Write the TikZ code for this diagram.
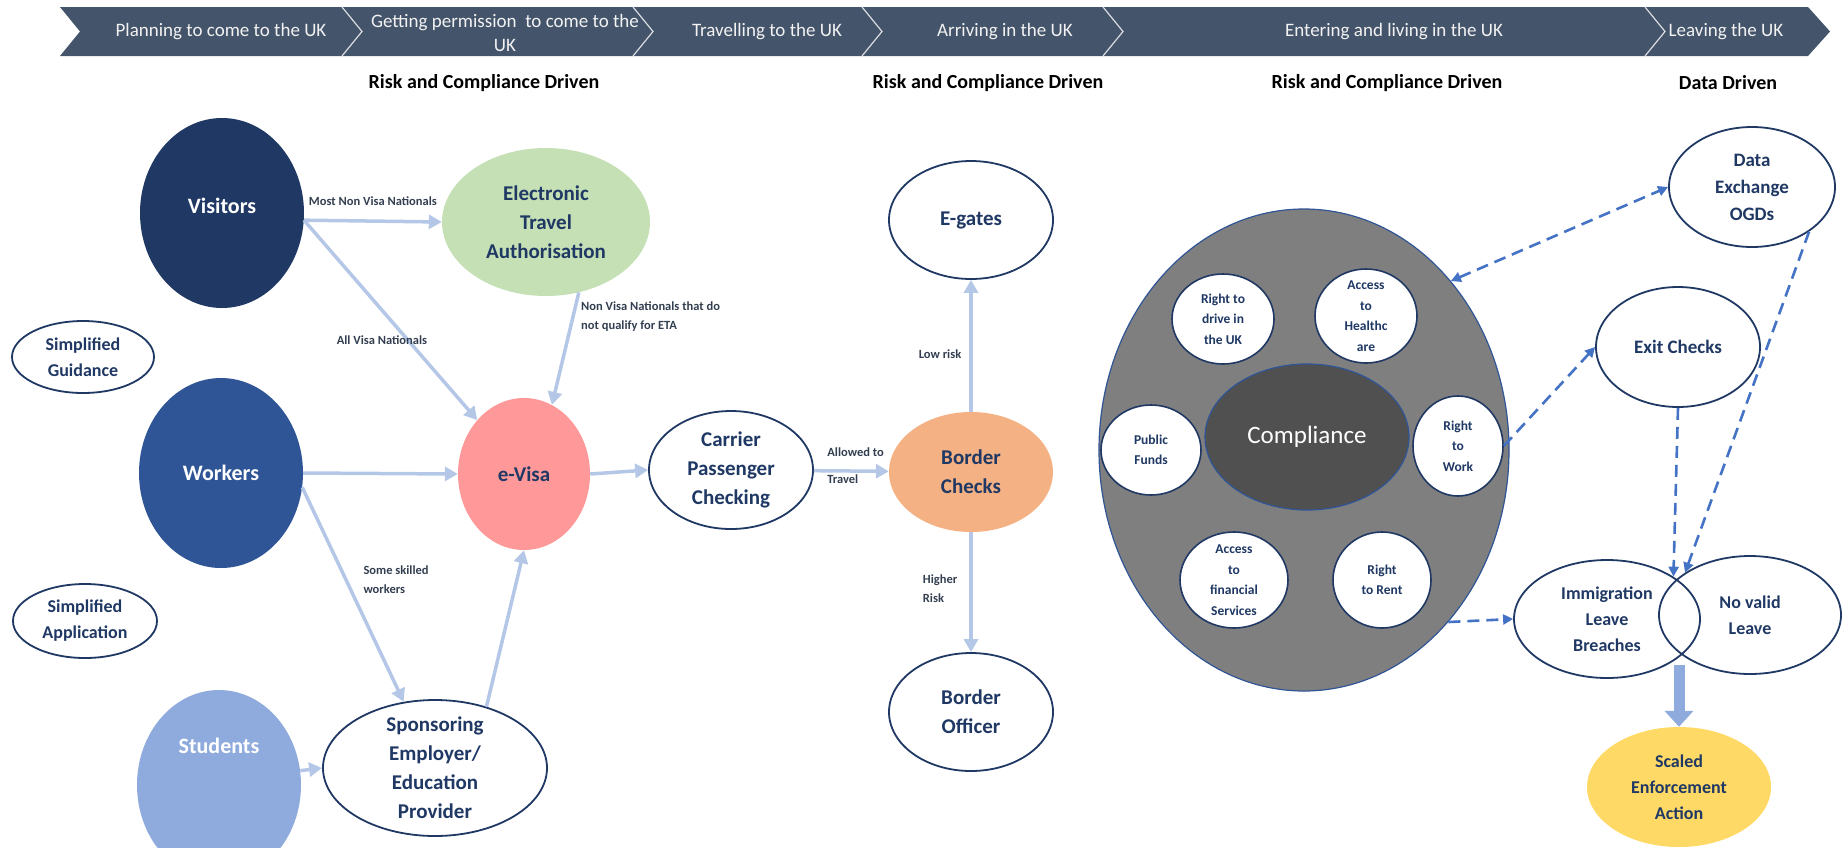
\documentclass[tikz,border=0pt]{standalone}
\usepackage{fontspec}
\setmainfont{Carlito}
\usetikzlibrary{shapes.geometric,arrows.meta,positioning}
\definecolor{navy}{HTML}{1F3864}
\definecolor{visitorblue}{HTML}{203864}
\definecolor{workerblue}{HTML}{2F5597}
\definecolor{studentblue}{HTML}{8FAADC}
\definecolor{etagreen}{HTML}{C5E0B4}
\definecolor{visapink}{HTML}{FF9999}
\definecolor{borderorange}{HTML}{F4B183}
\definecolor{actionyellow}{HTML}{FFD966}
\definecolor{flowblue}{HTML}{B4C7E7}
\definecolor{dashblue}{HTML}{4472C4}
\definecolor{bannergray}{HTML}{44546A}
\definecolor{labelgray}{HTML}{333F50}
\definecolor{outergray}{HTML}{7F7F7F}
\definecolor{innergray}{HTML}{505050}
\tikzset{
>={Triangle[length=13pt,width=14pt]}, % solid flow heads
dims/.style 2 args={minimum width=#1pt,minimum height=#2pt},
my blob/.style={ellipse,inner sep=0pt,align=center,text=navy,
  font=\fontsize{21}{29}\selectfont\bfseries},
my outline/.style={my blob,draw=navy,line width=1.8pt,fill=white},
my small/.style={my outline,line width=1.6pt,font=\fontsize{13.5}{20.5}\selectfont\bfseries},
my mid/.style={font=\fontsize{19}{27}\selectfont\bfseries},
my venn/.style={font=\fontsize{18}{26}\selectfont\bfseries},
squeeze/.style={inner ysep=-10pt},
my people/.style={ellipse,inner sep=0pt,dims={164}{190}},
people text/.style={text=white,font=\fontsize{22}{26}\selectfont\bfseries},
my core/.style={ellipse,inner sep=0pt,draw=workerblue,line width=1.2pt,text=white,
  font=\fontsize{25}{30}\selectfont},
my flow/.style={->,color=flowblue,line width=3.5pt},
my dashflow/.style={->,>={Triangle[length=10pt,width=10pt]},color=dashblue,
  line width=2.6pt,dash pattern=on 12pt off 7pt},
my bigflow/.style={draw=studentblue,line width=11pt,-{Triangle[length=16pt,width=28pt]}},
my label/.style={text=labelgray,inner sep=2pt,align=left,
  font=\fontsize{12.5}{19}\selectfont\bfseries},
stage/.style={text=white!95!black,align=center,font=\fontsize{19}{24}\selectfont},
driver/.style={font=\fontsize{20}{24}\selectfont\bfseries},
}
\begin{document}
\begin{tikzpicture}[x=1pt,y=-1pt]
\useasboundingbox (0,0) rectangle (1842,847);

% journey banner
\fill[bannergray] (60,7) -- (1808,7) -- (1830,31.5) -- (1808,56) -- (60,56) -- (80,31.5) -- cycle;
\foreach \x in {342,633,862,1103,1645}
  \draw[white!80!bannergray,line width=1.2pt] (\x,7) -- (\x+20,31.5) -- (\x,56);
\node[stage] (plan)   at (221,32)  {Planning to come to the UK};
\node[stage] (permit) at (505,33)  {Getting permission \ to come to the\\UK};
\node[stage] (travel) at (767,32)  {Travelling to the UK};
\node[stage] (arrive) at (1005,32) {Arriving in the UK};
\node[stage] (living) at (1394,32) {Entering and living in the UK};
\node[stage] (leave)  at (1726,32) {Leaving the UK};

\node[driver] (riskA) at (484,83)  {Risk and Compliance Driven};
\node[driver] (riskB) at (988,83)  {Risk and Compliance Driven};
\node[driver] (riskC) at (1387,83) {Risk and Compliance Driven};
\node[driver] (datadriven) at (1728,83) {Data Driven};

% who is coming
\node[my people,fill=visitorblue,label={[people text,yshift=7pt]center:Visitors}] (visitors) at (222,213) {};
\node[my people,fill=workerblue,label={[people text]center:Workers}]             (workers)  at (221,473) {};
\node[my people,fill=studentblue,label={[people text,yshift=39pt]center:Students}] (students) at (219,785) {};
\node[my outline,dims={142}{72},font=\fontsize{18}{26}\selectfont\bfseries] (guidance)    at (83,357) {Simplified\\Guidance};
\node[my outline,dims={144}{74},font=\fontsize{18}{26}\selectfont\bfseries] (application) at (85,621) {Simplified\\Application};

% permission and travel
\node[my blob,fill=etagreen,dims={208}{148}]     (eta)     at (546,222) {Electronic\\Travel\\Authorisation};
\node[my blob,fill=visapink,dims={132}{152}]     (evisa)   at (524,474) {e-Visa};
\node[my outline,squeeze,dims={224}{136}]        (sponsor) at (435,768) {Sponsoring\\Employer/\\Education\\Provider};
\node[my outline,dims={164}{118}]                (carrier) at (731,470) {Carrier\\Passenger\\Checking};
\node[my blob,fill=borderorange,dims={164}{120}] (border)  at (971,472) {Border\\Checks};
\node[my outline,dims={164}{118}]                (egates)  at (971,220) {E-gates};
\node[my outline,dims={164}{118}]                (officer) at (971,712) {Border\\Officer};

% living in the UK
\node[ellipse,fill=outergray,draw=workerblue,line width=1.2pt,dims={410}{482}] (compliance) at (1304,450) {};
\node[my core,fill=innergray,dims={204}{146}] (core) at (1307,437) {Compliance};
\node[my small,dims={102}{90}]          (drive)   at (1223,319) {Right to\\drive in\\the UK};
\node[my small,squeeze,dims={102}{94}]  (health)  at (1366,316) {Access\\to\\Healthc\\are};
\node[my small,dims={100}{90}]          (funds)   at (1151,450) {Public\\Funds};
\node[my small,dims={90}{100}]          (work)    at (1458,446) {Right\\to\\Work};
\node[my small,squeeze,dims={108}{96}]  (finance) at (1234,580) {Access\\to\\financial\\Services};
\node[my small,dims={98}{96}]           (rent)    at (1382,580) {Right\\to Rent};

% leaving
\node[my outline,my mid,dims={166}{120}] (dataex) at (1752,187) {Data\\Exchange\\OGDs};
\node[my outline,my mid,dims={164}{120}] (exit)   at (1678,347) {Exit Checks};
\node[my outline,my venn,fill=none,dims={186}{118}] (immig) at (1607,619) {Immigration\\Leave\\Breaches};
\node[my outline,my venn,fill=none,dims={182}{118}] (noval) at (1750,615) {No valid\\Leave};
\node[my blob,my venn,fill=actionyellow,dims={184}{120}] (scaled) at (1679,787) {Scaled\\Enforcement\\Action};

\path[my flow]
  (visitors.-5)   edge node[my label,above=12pt] {Most Non Visa Nationals} (eta.west)
  (visitors.-5)   edge node[my label,pos=0.6,xshift=-26pt] {All Visa Nationals} (evisa)
  (eta.295)       edge node[my label,pos=0.05,anchor=north west] {Non Visa Nationals that do\\not qualify for ETA} (evisa.68)
  (workers.east)  edge (evisa.west)
  (workers.-10)   edge node[my label,pos=0.35,anchor=north west,xshift=22pt] {Some skilled\\workers} (sponsor)
  (students.10)   edge (sponsor.west)
  (sponsor.50)    edge (evisa.south)
  (evisa.east)    edge (carrier.west)
  (carrier)       edge node[my label,pos=0.13,anchor=south west,yshift=10pt] {Allowed to}
                       node[my label,pos=0.13,anchor=north west] {Travel} (border)
  (border)        edge node[my label,pos=0.44,left=6pt] {Low risk} (egates)
  (border)        edge node[my label,pos=0.47,left=10pt] {Higher\\Risk} (officer);

\path[my dashflow]
  (compliance.49)  edge[<->] (dataex.west)
  (work.east)      edge (exit.west)
  (exit.south)     edge (immig.north east)
  (dataex.322)     edge (noval.north west)
  (compliance.-50) edge (immig.west);

\coordinate (vennbot) at (1679,665);
\draw[my bigflow] (vennbot) -- (scaled);
\end{tikzpicture}
\end{document}
